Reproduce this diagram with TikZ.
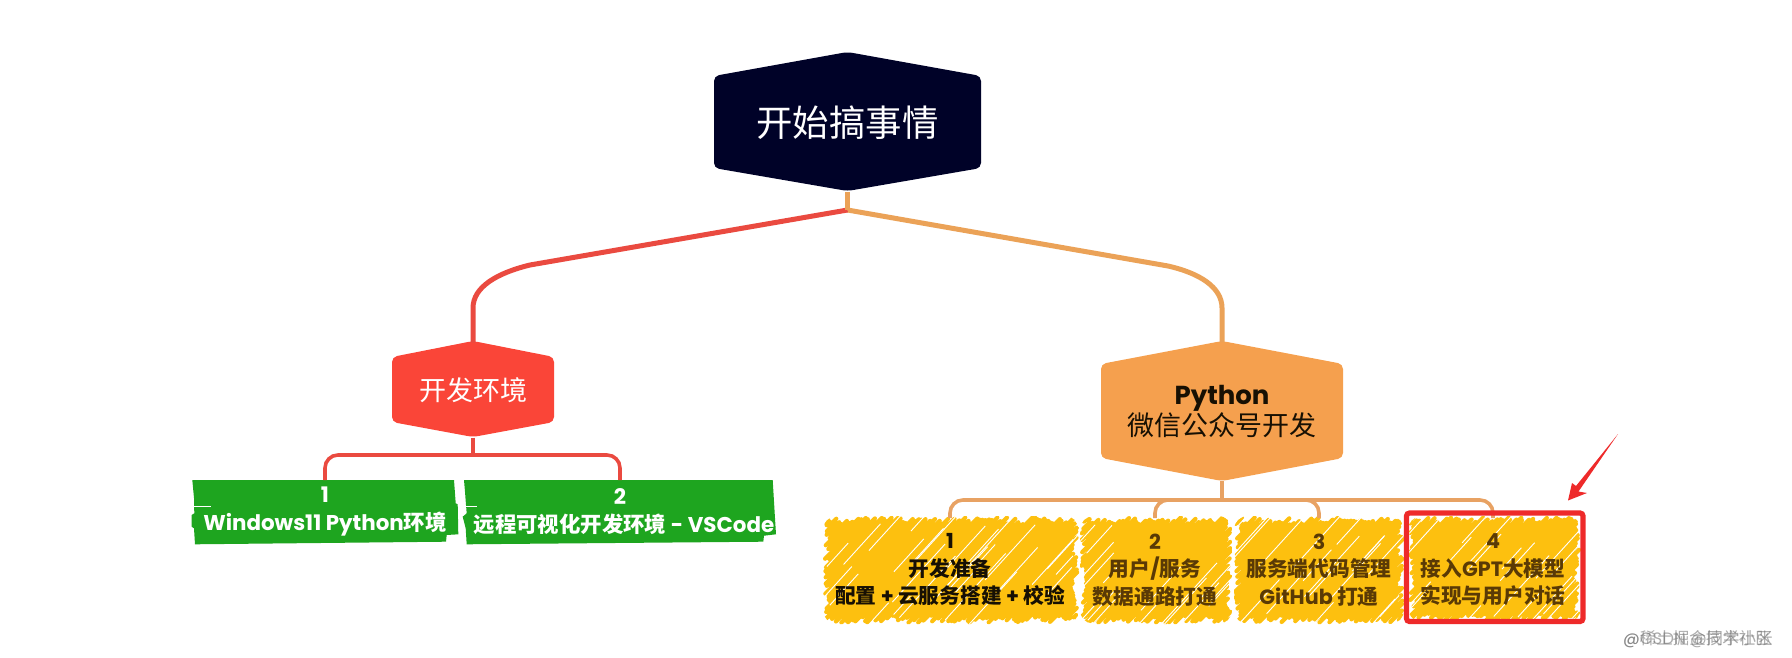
\documentclass[tikz,border=0pt]{standalone}
\usepackage{fontspec}
\setmainfont{Poppins}
\newfontfamily\cjk{Noto Sans CJK SC}
\definecolor{rootnavy}{HTML}{000228}
\definecolor{hexred}{HTML}{FA4538}
\definecolor{hexorange}{HTML}{F5A04E}
\definecolor{linered}{HTML}{EA4A40}
\definecolor{lineorange}{HTML}{EBA257}
\definecolor{thinorange}{HTML}{E8A263}
\definecolor{leafgreen}{HTML}{1EA51F}
\definecolor{scribyellow}{HTML}{FDC00F}
\definecolor{inkbrown}{HTML}{5A3A05}
\definecolor{inkblack}{HTML}{171003}
\definecolor{markred}{HTML}{EE2A2A}
\newcommand{\fs}[2]{\fontsize{#1}{#2}\selectfont}
\newcommand{\scribble}[5]{%
  \pgfmathsetseed{#5}
  \begin{scope}
    \clip[rounded corners=14pt] (#1,#2) rectangle (#3,#4);
    \fill[scribyellow,rounded corners=10pt] (#1+9,#2+9) rectangle (#3-9,#4-9);
    \pgfmathtruncatemacro{\nstroke}{((#3-#1)+(#4-#2))/3.2}
    \foreach \i in {0,...,\nstroke}{
      \pgfmathsetmacro{\cc}{#1+#2+3.2*\i}
      \pgfmathsetmacro{\xa}{max(#1,\cc-#4)+1.5+rnd*7}
      \pgfmathsetmacro{\xb}{min(#3,\cc-#2)-1.5-rnd*7}
      \pgfmathsetmacro{\ya}{\cc-\xa}
      \pgfmathsetmacro{\yb}{\cc-\xb}
      \draw[scribyellow,line width=4.2pt,line cap=round] (\xa,\ya) -- (\xb,\yb);
    }
    \pgfmathtruncatemacro{\nstreak}{(#3-#1)/9}
    \foreach \i in {1,...,\nstreak}{
      \pgfmathsetmacro{\mx}{#1+rnd*(#3-#1)}
      \pgfmathsetmacro{\my}{#2+rnd*(#4-#2)}
      \pgfmathsetmacro{\ll}{8+rnd*24}
      \draw[white,line width=0.9pt] (\mx-\ll,\my+\ll*1.1) -- (\mx+\ll,\my-\ll*1.1);
    }
  \end{scope}
}
\tikzset{
  hexshape/.style={rounded corners=5pt},
  boxnode/.style={inner sep=0pt,outer sep=0pt,align=center},
  thick red/.style={linered,line width=5pt},
  thick orange/.style={lineorange,line width=5pt},
  bracket red/.style={linered,line width=3.6pt,rounded corners=13pt},
  bracket orange/.style={thinorange,line width=3.6pt,rounded corners=13pt},
  leaftext/.style={boxnode,text=white,font=\bfseries\fs{21.4}{28}},
  scribtext/.style={boxnode,font=\bfseries\fs{20.7}{27.5}},
  watermark/.style={inner sep=0pt,anchor=west,text=black!55,opacity=.6,font=\fs{16.5}{20}}
}
\begin{document}
\begin{tikzpicture}[x=1pt,y=-1pt]
\useasboundingbox (0,0) rectangle (1792,658);
% hexagons
\fill[rootnavy,hexshape] (847.5,52) -- (981,76) -- (981,168) -- (847.5,191) -- (714,168) -- (714,76) -- cycle;
\fill[hexred,hexshape] (473,341) -- (554,357) -- (554,422) -- (473,437) -- (392,422) -- (392,357) -- cycle;
\fill[hexorange,hexshape] (1222,341) -- (1343,364) -- (1343,458) -- (1222,481) -- (1101,458) -- (1101,364) -- cycle;
% green leaves
\fill[leafgreen] (192.3,480) -- (454,480) -- (455.7,503.3) -- (457.7,504.3) -- (458.3,534.3) -- (446.7,535) -- (446,541.7) -- (195,544.3) -- (194,528.3) -- (191.7,526.7) -- (191.7,515) -- (194.3,513.3) -- (194,498) -- cycle;
\fill[leafgreen] (464,480) -- (772.7,480) -- (774,501.7) -- (775,518.3) -- (776,534.3) -- (764,535.7) -- (763.3,541.7) -- (466.7,544.3) -- (465.7,528.3) -- (462.7,516.7) -- (466.7,513.3) -- (466,505) -- (465,491.7) -- cycle;
\draw[white,line width=.7pt] (192,506) -- (211,506);
\draw[white,line width=.7pt] (465,506) -- (477,506);
% scribbled boxes
\scribble{823}{516}{1079}{624}{11}
\scribble{1080}{516}{1232}{624}{22}
\scribble{1234}{516}{1404}{624}{33}
\scribble{1408}{516}{1581}{622}{44}
% nodes
\node[boxnode,minimum width=267pt,minimum height=138pt,text=white,font=\cjk\fs{36.4}{40}] (root) at (847.5,123) {开始搞事情};
\node[boxnode,minimum width=162pt,minimum height=95pt,text=white,font=\cjk\fs{27}{32}] (dev) at (473,390) {开发环境};
\node[boxnode,minimum width=242pt,minimum height=139pt,text=inkblack] (py) at (1222,411.5) {{\bfseries\fs{26}{42}Python}\\[0pt]{\cjk\fs{27}{42}微信公众号开发}};
\node[leaftext,minimum width=266pt,minimum height=64pt] (g1) at (325,512) {1\\Windows11 Python{\cjk 环境}};
\node[leaftext,minimum width=310pt,minimum height=64pt] (g2) at (620,512) {2\\\hspace{8pt}{\cjk 远程可视化开发环境} - VSCode};
\node[scribtext,minimum width=255pt,minimum height=104pt,text=inkblack] (y1) at (950,570) {1\\{\cjk 开发准备}\\{\cjk 配置} + {\cjk 云服务搭建} + {\cjk 校验}};
\node[scribtext,minimum width=150pt,minimum height=104pt,text=inkbrown] (y2) at (1155,570) {2\\{\cjk 用户}/{\cjk 服务}\\{\cjk 数据通路打通}};
\node[scribtext,minimum width=168pt,minimum height=104pt,text=inkbrown] (y3) at (1319,570) {3\\{\cjk 服务端代码管理}\\GitHub {\cjk 打通}};
\node[scribtext,minimum width=170pt,minimum height=104pt,text=inkbrown] (y4) at (1493,570) {4\\{\cjk 接入}GPT{\cjk 大模型}\\{\cjk 实现与用户对话}};
% connector waypoints
\coordinate (rj) at (847.5,210);
\coordinate (ra) at (530,265);
\coordinate (rb) at (497,273);
\coordinate (rc) at (473,287);
\coordinate (rd) at (473,308);
\coordinate (oa) at (1168,266);
\coordinate (ob) at (1199,273);
\coordinate (oc) at (1222,287);
\coordinate (od) at (1222,308);
\coordinate (dj) at (473,455);
\coordinate (pj) at (1222,500);
% connectors
\draw[thick orange] (rj) -- (oa) .. controls (ob) and (oc) .. (od) -- (py.north);
\draw[thick red] (rj) -- (ra) .. controls (rb) and (rc) .. (rd) -- (dev.north);
\draw[thick orange] (root.south) -- (rj);
\draw[linered,line width=3.6pt] (dev.south) -- (dj);
\draw[bracket red] (g1.north) |- (dj) -| (g2.north);
\draw[thinorange,line width=3.6pt] (py.south) -- (pj);
\draw[bracket orange] (y1.north) |- (pj) -| (y4.north);
\draw[bracket orange] (y2.north) |- (pj);
\draw[bracket orange] (y3.north) |- (pj);
% highlight frame and hand-drawn arrow
\draw[markred,line width=5.2pt,rounded corners=3pt] (1406.5,513) rectangle (1583,621.5);
\fill[markred] (1618,434) -- (1578.5,491.5) -- (1587,493) -- (1568,500.5) -- (1572,483) -- (1576,486) -- cycle;
% attribution marks
\node[watermark] (w1) at (1623,639) {@{\cjk 稀土掘金技术社区}};
\node[watermark] (w2) at (1623,639) {@CSDN @{\cjk 同学小张}};
\end{tikzpicture}
\end{document}
